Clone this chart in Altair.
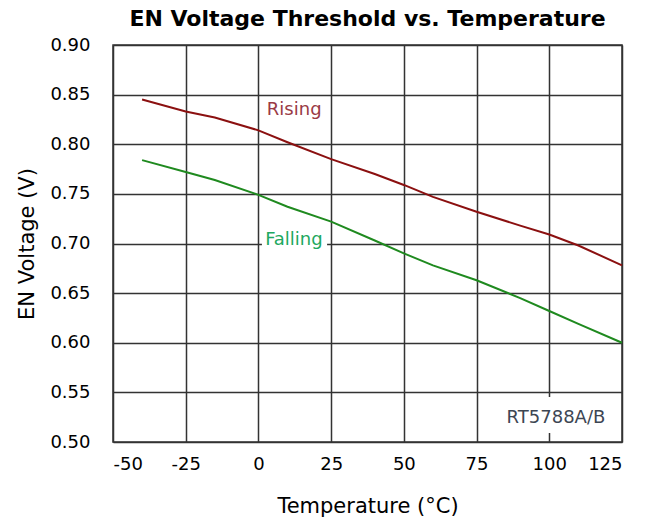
import altair as alt
import pandas as pd

# Data
temps = [-40, -25, -15, 0, 10, 25, 40, 50, 60, 75, 90, 100, 110, 125]
rising = [0.845, 0.833, 0.827, 0.814, 0.802, 0.785, 0.770, 0.759, 0.747, 0.732, 0.718, 0.709, 0.698, 0.678]
falling = [0.784, 0.772, 0.764, 0.749, 0.737, 0.722, 0.703, 0.690, 0.678, 0.663, 0.645, 0.632, 0.619, 0.600]

x_ticks = [-50, -25, 0, 25, 50, 75, 100, 125]
y_ticks = [0.50, 0.55, 0.60, 0.65, 0.70, 0.75, 0.80, 0.85, 0.90]

label_text = ["Rising", "Falling", "RT5788A/B"]
label_x = [12.3, 12.2, 102.3]
label_y = [0.829, 0.6985, 0.519]
label_color = ["#9a3a46", "#20a860", "#3d4653"]

# white boxes behind the "Falling" and "RT5788A/B" labels
bg_x0 = [1.2, 98.5]
bg_x1 = [23.6, 120.6]
bg_y0 = [0.695, 0.509]
bg_y1 = [0.705, 0.5454]

FONT = "DejaVu Sans"

rows = []
for t, r, f in zip(temps, rising, falling):
    rows.append({"temp": t, "v": r, "series": "Rising"})
    rows.append({"temp": t, "v": f, "series": "Falling"})
df = pd.DataFrame(rows)

labels = pd.DataFrame({"text": label_text, "x": label_x, "y": label_y, "c": label_color})
bgs = pd.DataFrame({"x0": bg_x0, "x1": bg_x1, "y0": bg_y0, "y1": bg_y1})

xscale = alt.Scale(domain=[-50, 125], nice=False, zero=False)
yscale = alt.Scale(domain=[0.5, 0.9], nice=False, zero=False)

xaxis = alt.Axis(values=x_ticks, labelExpr="'' + datum.value", title="Temperature (°C)",
                 labelPadding=13, titlePadding=22)
yaxis = alt.Axis(values=y_ticks, format=".2f", title="EN Voltage (V)",
                 labelPadding=23, titlePadding=12)

base_x = alt.X("temp:Q", scale=xscale, axis=xaxis)
base_y = alt.Y("v:Q", scale=yscale, axis=yaxis)

lines = alt.Chart(df).mark_line(strokeWidth=2).encode(
    x=base_x,
    y=base_y,
    color=alt.Color("series:N",
                    scale=alt.Scale(domain=["Rising", "Falling"], range=["#8b1010", "#1f8a1f"]),
                    legend=None),
    detail="series:N",
)

boxes = alt.Chart(bgs).mark_rect(color="white").encode(
    x=alt.X("x0:Q", scale=xscale, axis=xaxis),
    x2="x1:Q",
    y=alt.Y("y0:Q", scale=yscale, axis=yaxis),
    y2="y1:Q",
)

texts = alt.Chart(labels).mark_text(font=FONT, fontSize=18, align="center", baseline="alphabetic").encode(
    x=alt.X("x:Q", scale=xscale, axis=xaxis),
    y=alt.Y("y:Q", scale=yscale, axis=yaxis),
    text="text:N",
    color=alt.Color("c:N", scale=None),
)

chart = alt.layer(boxes, lines, texts).properties(
    width=509,
    height=397,
    title=alt.TitleParams("EN Voltage Threshold vs. Temperature", font=FONT, fontSize=22,
                          fontWeight="bold", color="black", anchor="middle", offset=5),
    autosize=alt.AutoSizeParams(type="none"),
    padding={"left": 105, "top": 37, "right": 25, "bottom": 80},
).configure_view(
    stroke="#333333", strokeWidth=1.5
).configure_axis(
    grid=True, gridColor="#333333", gridWidth=1.5, gridOpacity=1,
    domain=False, ticks=False, tickSize=0,
    labelFont=FONT, labelFontSize=18, labelColor="black",
    titleFont=FONT, titleFontSize=21, titleFontWeight="normal", titleColor="black",
)

chart.save("out.html", embed_options={"renderer": "svg", "actions": False})
